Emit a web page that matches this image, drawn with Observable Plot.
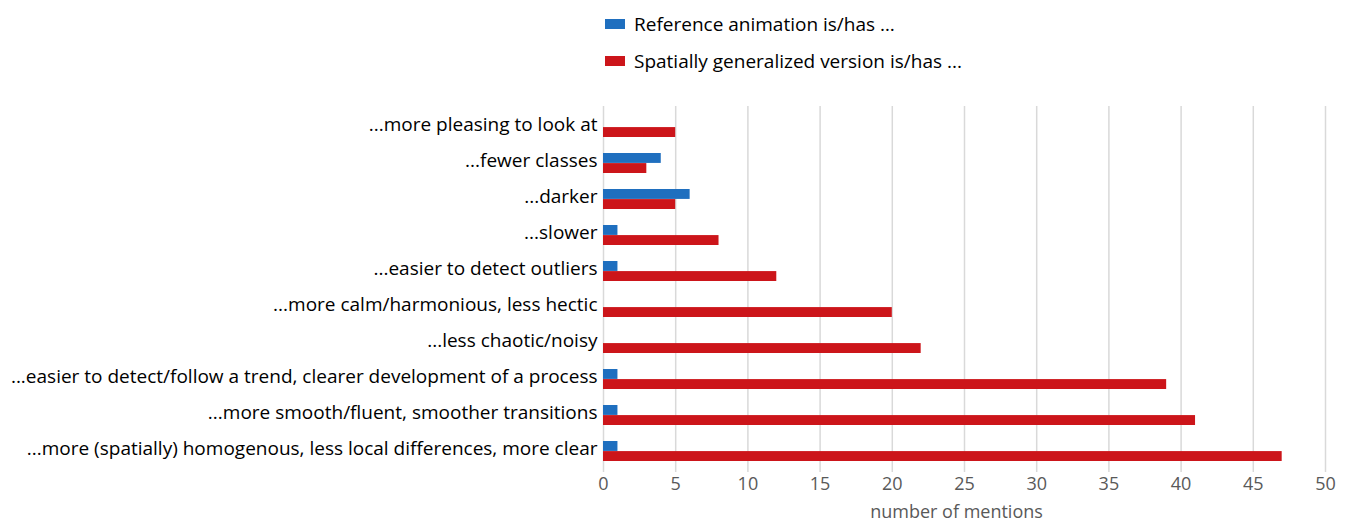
<!DOCTYPE html>
<html>
<head>
<meta charset="utf-8">
<script src="https://cdn.jsdelivr.net/npm/d3@7"></script>
<script src="https://cdn.jsdelivr.net/npm/@observablehq/plot@0.6"></script>
<style>
  body { margin: 0; background: #fff; font-family: "Open Sans", sans-serif; }
  #legend { position: relative; height: 90px; width: 1348px; }
  .item { position: absolute; left: 605px; display: flex; align-items: center; font-size: 19px; color: #000; }
  .sw { width: 20px; height: 10px; margin-right: 9px; }
  svg { display: block; }
</style>
</head>
<body>
<div id="legend"></div>
<div id="chart"></div>
<script>
const categories = [
  "...more pleasing to look at",
  "...fewer classes",
  "...darker",
  "...slower",
  "...easier to detect outliers",
  "...more calm/harmonious, less hectic",
  "...less chaotic/noisy",
  "...easier to detect/follow a trend, clearer development of a process",
  "...more smooth/fluent, smoother transitions",
  "...more (spatially) homogenous, less local differences, more clear"
];
const reference = [0, 4, 6, 1, 1, 0, 0, 1, 1, 1];
const spatial = [5, 3, 5, 8, 12, 20, 22, 39, 41, 47];
const seriesNames = ["Reference animation is/has …", "Spatially generalized version is/has ..."];
const seriesColors = ["#1f6fbf", "#cc151a"];
const xTicks = [0, 5, 10, 15, 20, 25, 30, 35, 40, 45, 50];
const xLabel = "number of mentions";

const data = categories.map((c, i) => ({category: c, reference: reference[i], spatial: spatial[i]}));

// legend
const legend = document.getElementById("legend");
seriesNames.forEach((name, i) => {
  const d = document.createElement("div");
  d.className = "item";
  d.style.top = (i === 0 ? 11 : 48) + "px";
  const sw = document.createElement("span");
  sw.className = "sw";
  sw.style.background = seriesColors[i];
  const t = document.createElement("span");
  t.textContent = name;
  d.appendChild(sw); d.appendChild(t);
  legend.appendChild(d);
});

const half = 36.67 * 0.55 / 2;

const chart = Plot.plot({
  width: 1348,
  height: 435,
  marginLeft: 603,
  marginRight: 23,
  marginTop: 16,
  marginBottom: 53,
  style: {fontFamily: "'Open Sans', sans-serif", fontSize: "18px", color: "#000", background: "#fff"},
  x: {domain: [0, 50]},
  y: {domain: categories, paddingInner: 0.45, paddingOuter: 0.225},
  marks: [
    Plot.gridX(xTicks, {stroke: "#d9d9d9", strokeOpacity: 1, strokeWidth: 1.5}),
    Plot.barX(data, {y: "category", x: "reference", fill: seriesColors[0], insetBottom: half}),
    Plot.barX(data, {y: "category", x: "spatial", fill: seriesColors[1], insetTop: half}),
    Plot.axisX(xTicks, {tickSize: 0, tickPadding: 5, fill: "#595959", fontSize: 18, label: null}),
    Plot.text([xLabel], {frameAnchor: "bottom", lineAnchor: "top", dy: 33, dx: -8, fill: "#595959", fontSize: 18}),
    Plot.axisY({tickSize: 0, tickPadding: 6, fontSize: 19, fill: "#000", label: null, dy: -3})
  ]
});
document.getElementById("chart").appendChild(chart);
</script>
</body>
</html>
